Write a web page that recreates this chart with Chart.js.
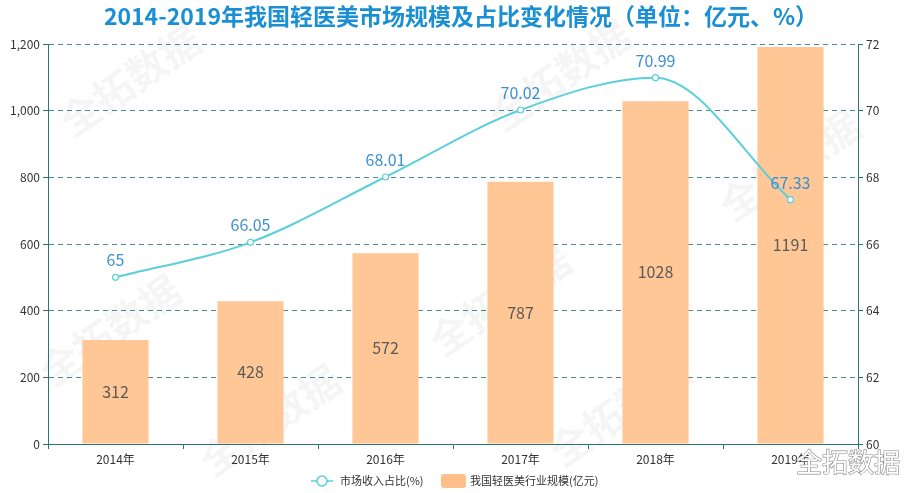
<!DOCTYPE html>
<html>
<head>
<meta charset="utf-8">
<script src="https://cdn.jsdelivr.net/npm/chart.js@4"></script>
<style>
  html, body { margin: 0; padding: 0; background: #fff; }
  #wrap { width: 920px; height: 493px; position: relative; }
</style>
</head>
<body>
<div id="wrap"><canvas id="chart1"></canvas></div>
<script>
var FONT = "'Noto Sans CJK SC', 'Noto Sans', sans-serif";

var titulo = '2014-2019年我国轻医美市场规模及占比变化情况（单位：亿元、%）';
var anos = ['2014年', '2015年', '2016年', '2017年', '2018年', '2019年'];
var escala = [312, 428, 572, 787, 1028, 1191];      // 我国轻医美行业规模(亿元)
var participacao = [65, 66.05, 68.01, 70.02, 70.99, 67.33]; // 市场收入占比(%)
var nomeBarra = '我国轻医美行业规模(亿元)';
var nomeLinha = '市场收入占比(%)';

// desenha título, rótulos, legenda e marca d'água
var extras = {
    id: 'extras',
    beforeDatasetsDraw: function (chart) {
        var ctx = chart.ctx;
        ctx.save();
        ctx.font = 'bold 40px ' + FONT;
        ctx.fillStyle = 'rgba(0,0,0,0.04)';
        ctx.textAlign = 'center';
        ctx.textBaseline = 'middle';
        [[130, 80], [560, 75], [790, 165], [110, 330], [500, 300], [270, 420], [620, 410]].forEach(function (p) {
            ctx.save();
            ctx.translate(p[0], p[1]);
            ctx.rotate(-0.6);
            ctx.fillText('全拓数据', 0, 0);
            ctx.restore();
        });
        ctx.restore();
    },
    afterDatasetsDraw: function (chart) {
        var ctx = chart.ctx;
        ctx.save();
        ctx.textAlign = 'center';
        ctx.textBaseline = 'middle';

        // valores das barras, no meio da barra
        ctx.font = '16px ' + FONT;
        ctx.fillStyle = '#5a5a5a';
        chart.getDatasetMeta(1).data.forEach(function (bar, i) {
            ctx.fillText(String(escala[i]), bar.x, (bar.y + bar.base) / 2);
        });

        // valores da linha, acima do ponto
        ctx.fillStyle = '#3d8fd1';
        chart.getDatasetMeta(0).data.forEach(function (pt, i) {
            ctx.fillText(String(participacao[i]), pt.x, pt.y - 17);
        });

        // título
        ctx.font = 'bold 23px ' + FONT;
        ctx.fillStyle = '#1a8fd3';
        ctx.fillText(titulo, 461, 16);

        // legenda
        var ly = 481;
        ctx.strokeStyle = '#5bcfda';
        ctx.lineWidth = 1.5;
        ctx.beginPath();
        ctx.moveTo(311, ly);
        ctx.lineTo(333, ly);
        ctx.stroke();
        ctx.beginPath();
        ctx.arc(322, ly, 5, 0, Math.PI * 2);
        ctx.fillStyle = '#fff';
        ctx.fill();
        ctx.stroke();
        ctx.font = '11px ' + FONT;
        ctx.fillStyle = '#333';
        ctx.textAlign = 'left';
        ctx.fillText(nomeLinha, 340, ly);
        ctx.fillStyle = '#ffbf8a';
        ctx.beginPath();
        ctx.roundRect(441, ly - 7, 25, 14, 3);
        ctx.fill();
        ctx.fillStyle = '#333';
        ctx.fillText(nomeBarra, 470, ly);

        // logo canto inferior direito
        ctx.font = '26px ' + FONT;
        ctx.textAlign = 'center';
        ctx.lineWidth = 1.2;
        ctx.strokeStyle = '#888';
        ctx.strokeText('全拓数据', 848, 462);
        ctx.fillStyle = '#fff';
        ctx.fillText('全拓数据', 848, 462);
        ctx.restore();
    }
};

var ctx1 = document.getElementById('chart1').getContext('2d');
var chart1 = new Chart(ctx1, {
    type: 'bar',
    data: {
        labels: anos,
        datasets: [{
            type: 'line',
            label: nomeLinha,
            data: participacao,
            yAxisID: 'y1',
            borderColor: '#5bcfda',
            borderWidth: 2,
            backgroundColor: '#fff',
            pointBorderColor: '#5bcfda',
            pointBackgroundColor: '#fff',
            pointRadius: 3,
            pointBorderWidth: 1.2,
            cubicInterpolationMode: 'monotone',
            order: 0
        }, {
            type: 'bar',
            label: nomeBarra,
            data: escala,
            yAxisID: 'y',
            backgroundColor: '#ffc795',
            categoryPercentage: 1,
            barPercentage: 0.49,
            order: 1
        }]
    },
    options: {
        responsive: true,
        maintainAspectRatio: false,
        animation: false,
        layout: { padding: { top: 44, left: 0, right: 0, bottom: 0 } },
        plugins: {
            legend: { display: false },
            title: { display: false },
            tooltip: { enabled: false }
        },
        scales: {
            x: {
                offset: true,
                afterFit: function (s) { s.height = 49; },
                border: { color: '#2b7479', width: 1 },
                grid: { offset: true, drawOnChartArea: false, tickLength: 5, tickColor: '#2b7479' },
                ticks: { color: '#333', font: { family: FONT, size: 12 }, padding: 3, maxRotation: 0 }
            },
            y: {
                position: 'left',
                min: 0,
                max: 1200,
                afterFit: function (s) { s.width = 48; },
                border: { color: '#2b7479', width: 1, dash: [5, 4] },
                grid: { color: '#4e8d8f', tickLength: 5, tickColor: '#2b7479', tickBorderDash: [] },
                ticks: {
                    stepSize: 200,
                    color: '#333',
                    font: { family: FONT, size: 12 },
                    padding: 3,
                    callback: function (v) { return v.toLocaleString('en-US'); }
                }
            },
            y1: {
                position: 'right',
                min: 60,
                max: 72,
                afterFit: function (s) { s.width = 62; },
                border: { color: '#2b7479', width: 1 },
                grid: { drawOnChartArea: false, tickLength: 5, tickColor: '#2b7479' },
                ticks: { stepSize: 2, color: '#333', font: { family: FONT, size: 12 }, padding: 3 }
            }
        }
    },
    plugins: [extras]
});
</script>
</body>
</html>
